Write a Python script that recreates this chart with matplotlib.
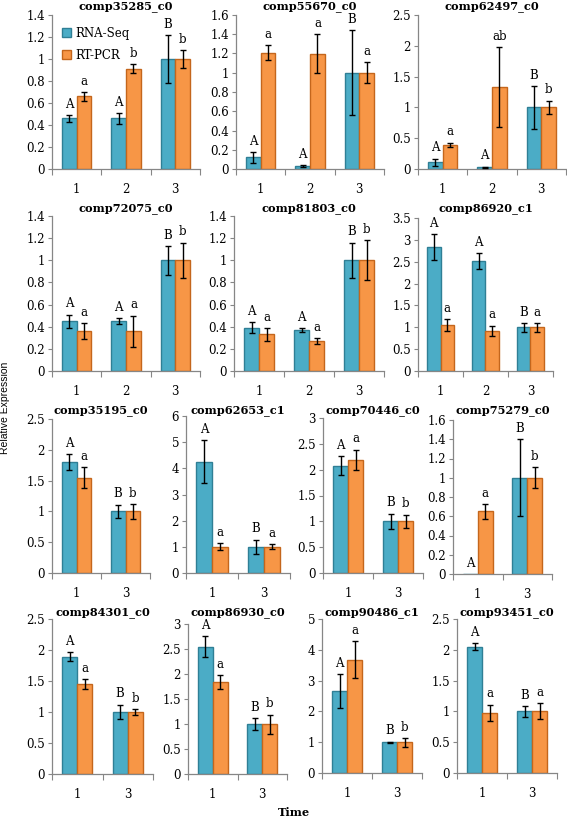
import matplotlib.pyplot as plt
import numpy as np
from matplotlib.ticker import FixedLocator, FuncFormatter

# ---- data ----
titles = ['comp35285_c0', 'comp55670_c0', 'comp62497_c0',
          'comp72075_c0', 'comp81803_c0', 'comp86920_c1',
          'comp35195_c0', 'comp62653_c1', 'comp70446_c0', 'comp75279_c0',
          'comp84301_c0', 'comp86930_c0', 'comp90486_c1', 'comp93451_c0']

times_a = ['1', '2', '3']
times_b = ['1', '3']
panel_times = [times_a] * 6 + [times_b] * 8

rna_seq = [[0.46, 0.46, 1.0], [0.12, 0.03, 1.0], [0.11, 0.03, 1.0],
           [0.45, 0.45, 1.0], [0.39, 0.37, 1.0], [2.83, 2.51, 1.0],
           [1.80, 1.0], [4.25, 1.0], [2.08, 1.0], [0.0, 1.0],
           [1.89, 1.0], [2.55, 1.0], [2.65, 1.0], [2.05, 1.0]]
rna_err = [[0.03, 0.05, 0.22], [0.06, 0.01, 0.44], [0.06, 0.01, 0.35],
           [0.06, 0.03, 0.13], [0.05, 0.02, 0.16], [0.30, 0.18, 0.10],
           [0.13, 0.11], [0.82, 0.28], [0.18, 0.15], [0.0, 0.40],
           [0.07, 0.12], [0.21, 0.12], [0.55, 0.02], [0.06, 0.09]]
rt_pcr = [[0.66, 0.91, 1.0], [1.21, 1.20, 1.0], [0.39, 1.33, 1.0],
          [0.36, 0.36, 1.0], [0.33, 0.27, 1.0], [1.05, 0.92, 1.0],
          [1.55, 1.0], [1.0, 1.0], [2.19, 1.0], [0.65, 1.0],
          [1.45, 1.0], [1.84, 1.0], [3.67, 1.0], [0.98, 1.0]]
rt_err = [[0.04, 0.04, 0.08], [0.08, 0.20, 0.11], [0.04, 0.65, 0.11],
          [0.07, 0.14, 0.16], [0.06, 0.03, 0.18], [0.13, 0.12, 0.10],
          [0.17, 0.12], [0.14, 0.10], [0.20, 0.13], [0.08, 0.11],
          [0.08, 0.05], [0.14, 0.19], [0.60, 0.14], [0.13, 0.13]]
rna_letters = [['A', 'A', 'B']] * 6 + [['A', 'B']] * 8
rt_letters = [['a', 'b', 'b'], ['a', 'a', 'a'], ['a', 'ab', 'b'],
              ['a', 'a', 'b'], ['a', 'a', 'b'], ['a', 'a', 'a'],
              ['a', 'b'], ['a', 'a'], ['a', 'b'], ['a', 'b'],
              ['a', 'b'], ['a', 'b'], ['a', 'b'], ['a', 'a']]
y_max = [1.4, 1.6, 2.5, 1.4, 1.4, 3.5, 2.5, 6, 3, 1.6, 2.5, 3, 5, 2.5]
y_step = [0.2, 0.2, 0.5, 0.2, 0.2, 0.5, 0.5, 1, 0.5, 0.2, 0.5, 0.5, 1, 0.5]

# ---- layout (pixel boxes: left, right, top, bottom) ----
W, H = 567, 819
boxes = [(52, 200, 15, 169), (236, 384, 15, 169), (418, 566, 15, 169),
         (52, 200, 216, 371), (234, 384, 216, 371), (418, 553, 218, 371),
         (52, 150, 419, 573), (186, 290, 416, 573), (323, 423, 418, 573), (453, 552, 420, 574),
         (52, 153, 619, 774), (188, 287, 624, 774), (322, 422, 619, 773), (457, 557, 619, 773)]
title_y = [7] * 3 + [208] * 3 + [411] * 4 + [612] * 4

BLUE, BLUE_EDGE = '#4BACC6', '#2F7F95'
ORANGE, ORANGE_EDGE = '#F79646', '#C4661C'
AXIS_GRAY = '#868686'
SERIF = 'DejaVu Serif'

fig = plt.figure(figsize=(W / 100, H / 100), dpi=100)


def fmt(v, pos):
    return '%g' % round(v, 2)


for i, (l, r, t, b) in enumerate(boxes):
    ax = fig.add_axes([l / W, 1 - b / H, (r - l) / W, (b - t) / H])
    n = len(panel_times[i])
    x = np.arange(n)
    w = 0.3
    ax.bar(x - w / 2, rna_seq[i], w, color=BLUE, edgecolor=BLUE_EDGE, linewidth=1,
           label='RNA-Seq', zorder=2)
    ax.bar(x + w / 2, rt_pcr[i], w, color=ORANGE, edgecolor=ORANGE_EDGE, linewidth=1,
           label='RT-PCR', zorder=2)
    for xs, vals, errs in ((x - w / 2, rna_seq[i], rna_err[i]), (x + w / 2, rt_pcr[i], rt_err[i])):
        mask = np.array(errs) > 0
        ax.errorbar(xs[mask], np.array(vals)[mask], yerr=np.array(errs)[mask], fmt='none',
                    ecolor='black', elinewidth=1, capsize=2.5, capthick=1, zorder=3)
    for xs, vals, errs, letters in ((x - w / 2, rna_seq[i], rna_err[i], rna_letters[i]),
                                    (x + w / 2, rt_pcr[i], rt_err[i], rt_letters[i])):
        for xx, v, e, s in zip(xs, vals, errs, letters):
            ax.annotate(s, (xx, v + e), xytext=(0, 3), textcoords='offset points',
                        ha='center', va='bottom', fontsize=8.5, family=SERIF,
                        annotation_clip=False)

    ax.set_xlim(-0.5, n - 0.5)
    ax.set_ylim(0, y_max[i])
    ax.yaxis.set_major_locator(FixedLocator(np.arange(0, y_max[i] + 1e-9, y_step[i])))
    ax.yaxis.set_major_formatter(FuncFormatter(fmt))
    ax.set_xticks(x)
    ax.set_xticklabels(panel_times[i])
    ax.xaxis.set_minor_locator(FixedLocator(np.arange(n + 1) - 0.5))

    for side in ('top', 'right'):
        ax.spines[side].set_visible(False)
    for side in ('left', 'bottom'):
        ax.spines[side].set_color(AXIS_GRAY)
        ax.spines[side].set_linewidth(0.9)
    ax.tick_params(axis='y', direction='out', length=3, width=0.8, color=AXIS_GRAY,
                   labelsize=8.5, pad=2)
    ax.tick_params(axis='x', which='major', length=0, labelsize=8.5, pad=10)
    ax.tick_params(axis='x', which='minor', direction='out', length=4, width=0.8, color=AXIS_GRAY)
    for lab in ax.get_xticklabels() + ax.get_yticklabels():
        lab.set_family(SERIF)

    fig.text((l + r) / 2 / W, 1 - title_y[i] / H, titles[i], ha='center', va='center',
             fontsize=8.2, family=SERIF, fontweight='bold')

    if i == 0:
        ax.legend(loc='upper left', bbox_to_anchor=(0.02, 0.97), frameon=False,
                  prop={'family': SERIF, 'size': 8.5}, handlelength=0.8, handleheight=0.8,
                  handletextpad=0.3, labelspacing=0.75, borderaxespad=0.2)

fig.text(5 / W, 1 - 408 / H, 'Relative Expression', rotation=90, ha='center', va='center',
         fontsize=7.5, family='Liberation Sans')
fig.text(294 / W, 1 - 812 / H, 'Time', ha='center', va='center', fontsize=8.2,
         family=SERIF, fontweight='bold')

fig.savefig('out.png', dpi=100)
